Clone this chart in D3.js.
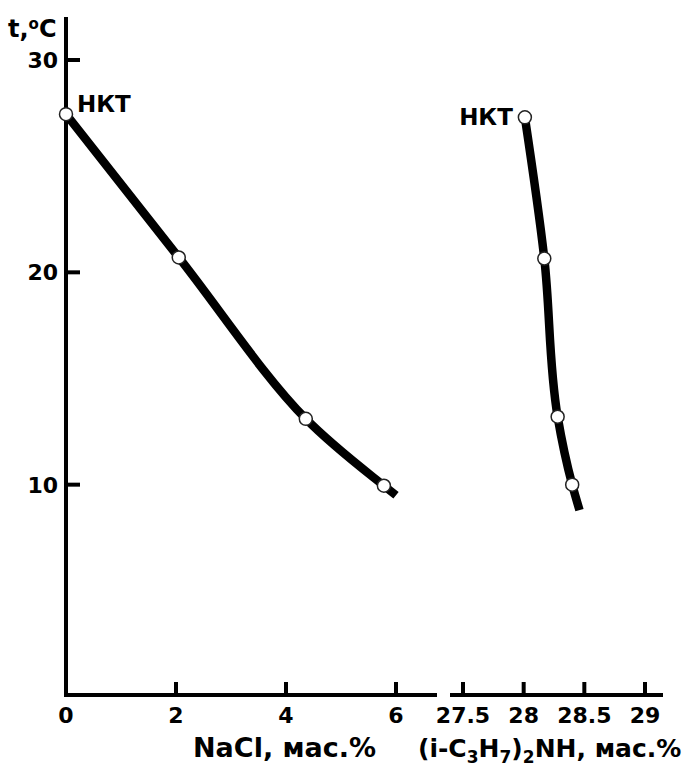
<!DOCTYPE html>
<html>
<head>
<meta charset="utf-8">
<script src="https://cdn.jsdelivr.net/npm/d3@7"></script>
<style>
  body { margin: 0; background: #fff; }
  text { font-family: "DejaVu Sans", sans-serif; font-weight: bold; fill: #000; }
</style>
</head>
<body>
<div id="chart"></div>
<script>
// NaCl series: measured points and the drawn curve (with its short tail)
const naclX = [0, 2.05, 4.36, 5.78];
const naclT = [27.45, 20.7, 13.1, 9.95];
const naclCurveX = [0, 2.05, 4.36, 5.78, 6.0];
const naclCurveT = [27.45, 20.7, 13.1, 9.95, 9.5];

// (i-C3H7)2NH series
const amineX = [28.01, 28.17, 28.28, 28.4];
const amineT = [27.3, 20.65, 13.2, 10.0];
const amineCurveX = [28.01, 28.17, 28.28, 28.4, 28.46];
const amineCurveT = [27.3, 20.65, 13.2, 10.0, 8.8];

const tTicks = [10, 20, 30];
const naclTicks = [0, 2, 4, 6];
const amineTicks = [27.5, 28, 28.5, 29];

const width = 690, height = 767;

let svg = d3.select("#chart").append("svg")
    .attr("width", width)
    .attr("height", height);

let y = d3.scaleLinear().domain([0, 30]).range([697, 60]);
let x1 = d3.scaleLinear().domain([0, 6]).range([66, 396]);
let x2 = d3.scaleLinear().domain([27.5, 29]).range([463, 645]);

let axisY = y(0) - 2;

// y axis
svg.append("line")
    .attr("x1", 66).attr("x2", 66)
    .attr("y1", 17).attr("y2", axisY + 2)
    .attr("stroke", "#000").attr("stroke-width", 4);

svg.selectAll(".ytick").data(tTicks).enter().append("line")
    .attr("x1", 66).attr("x2", 80)
    .attr("y1", d => y(d)).attr("y2", d => y(d))
    .attr("stroke", "#000").attr("stroke-width", 4);

svg.selectAll(".ylab").data(tTicks).enter().append("text")
    .attr("x", 58).attr("y", d => y(d))
    .attr("dy", "0.36em")
    .attr("text-anchor", "end")
    .style("font-size", "22px")
    .text(d => d);

let tl = svg.append("text").attr("x", 8).attr("y", 37).style("font-size", "24px");
tl.append("tspan").text("t,");
tl.append("tspan").attr("dy", -8).style("font-size", "15px").text("o");
tl.append("tspan").attr("dy", 8).text("C");

// left x axis
svg.append("line")
    .attr("x1", 64).attr("x2", 437)
    .attr("y1", axisY).attr("y2", axisY)
    .attr("stroke", "#000").attr("stroke-width", 4);

svg.selectAll(".x1tick").data(naclTicks).enter().append("line")
    .attr("x1", d => x1(d)).attr("x2", d => x1(d))
    .attr("y1", axisY).attr("y2", axisY - 13)
    .attr("stroke", "#000").attr("stroke-width", 4);

svg.selectAll(".x1lab").data(naclTicks).enter().append("text")
    .attr("x", d => x1(d)).attr("y", 723)
    .attr("text-anchor", "middle")
    .style("font-size", "22px")
    .text(d => d);

svg.append("text")
    .attr("x", 193).attr("y", 757)
    .style("font-size", "27px")
    .text("NaCl, мас.%");

// right x axis
svg.append("line")
    .attr("x1", 450).attr("x2", 663)
    .attr("y1", axisY).attr("y2", axisY)
    .attr("stroke", "#000").attr("stroke-width", 4);

svg.selectAll(".x2tick").data(amineTicks).enter().append("line")
    .attr("x1", d => x2(d)).attr("x2", d => x2(d))
    .attr("y1", axisY).attr("y2", axisY - 13)
    .attr("stroke", "#000").attr("stroke-width", 4);

svg.selectAll(".x2lab").data(amineTicks).enter().append("text")
    .attr("x", d => x2(d)).attr("y", 723)
    .attr("text-anchor", "middle")
    .style("font-size", "22px")
    .text(d => d);

let al = svg.append("text").attr("x", 418).attr("y", 757).style("font-size", "25px");
al.append("tspan").text("(i-C");
al.append("tspan").attr("dy", 6).style("font-size", "17px").text("3");
al.append("tspan").attr("dy", -6).text("H");
al.append("tspan").attr("dy", 6).style("font-size", "17px").text("7");
al.append("tspan").attr("dy", -6).text(")");
al.append("tspan").attr("dy", 6).style("font-size", "17px").text("2");
al.append("tspan").attr("dy", -6).text("NH, мас.%");

// curves
let line1 = d3.line().curve(d3.curveMonotoneX)
    .x(d => x1(d[0])).y(d => y(d[1]));
let line2 = d3.line().curve(d3.curveMonotoneY)
    .x(d => x2(d[0])).y(d => y(d[1]));

svg.append("path")
    .datum(d3.zip(naclCurveX, naclCurveT))
    .attr("d", line1)
    .attr("fill", "none").attr("stroke", "#000").attr("stroke-width", 8.5);

// sorted by pixel y (top to bottom) for the monotone-in-y curve
svg.append("path")
    .datum(d3.zip(amineCurveX, amineCurveT).reverse())
    .attr("d", line2)
    .attr("fill", "none").attr("stroke", "#000").attr("stroke-width", 8.5);

svg.selectAll(".p1").data(d3.zip(naclX, naclT)).enter().append("circle")
    .attr("cx", d => x1(d[0])).attr("cy", d => y(d[1]))
    .attr("r", 6.5)
    .attr("fill", "#fff").attr("stroke", "#222").attr("stroke-width", 1.5);

svg.selectAll(".p2").data(d3.zip(amineX, amineT)).enter().append("circle")
    .attr("cx", d => x2(d[0])).attr("cy", d => y(d[1]))
    .attr("r", 6.5)
    .attr("fill", "#fff").attr("stroke", "#222").attr("stroke-width", 1.5);

// НКТ labels
svg.append("text")
    .attr("x", x1(naclX[0]) + 11).attr("y", y(naclT[0]) - 2)
    .style("font-size", "23px")
    .text("НКТ");

svg.append("text")
    .attr("x", x2(amineX[0]) - 12).attr("y", y(amineT[0]) + 8)
    .attr("text-anchor", "end")
    .style("font-size", "23px")
    .text("НКТ");
</script>
</body>
</html>
